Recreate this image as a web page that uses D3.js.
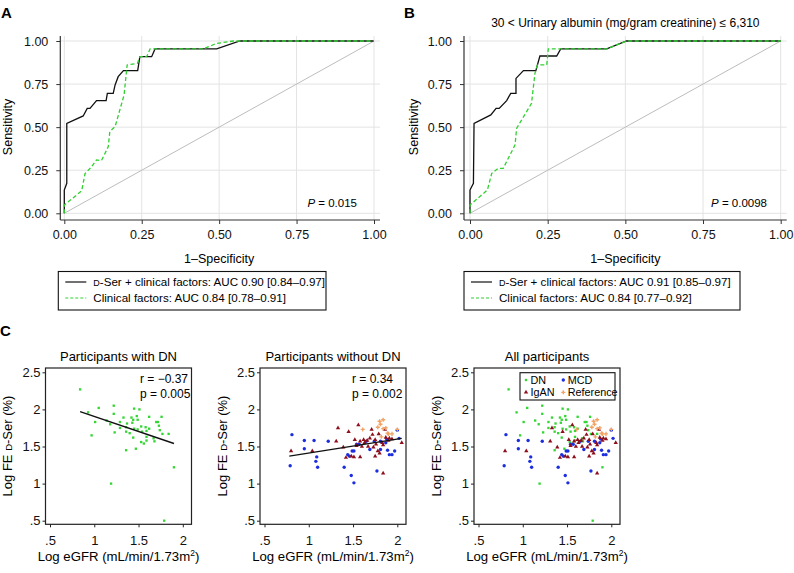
<!DOCTYPE html>
<html>
<head>
<meta charset="utf-8">
<script src="https://cdn.jsdelivr.net/npm/d3@7/dist/d3.min.js"></script>
<style>
  body { margin: 0; background: #fff; }
  svg { display: block; font-family: "Liberation Sans", Arial, Helvetica, sans-serif; }
</style>
</head>
<body>
<svg id="fig" width="794" height="573"></svg>
<script>
// ---- ROC data (1-specificity, sensitivity) ----
const rocTicks = [0, 0.25, 0.5, 0.75, 1];

const rocA_dser = [[0,0],[0,0.135],[0.008,0.174],[0.008,0.522],[0.061,0.565],[0.074,0.609],[0.083,0.609],
  [0.104,0.654],[0.135,0.654],[0.139,0.696],[0.158,0.696],[0.164,0.745],[0.174,0.793],[0.191,0.828],
  [0.237,0.828],[0.244,0.909],[0.282,0.909],[0.293,0.954],[0.492,0.954],[0.567,1],[1,1]];
const rocA_clin = [[0,0],[0,0.048],[0.056,0.13],[0.067,0.23],[0.088,0.27],[0.104,0.31],[0.12,0.306],
  [0.142,0.387],[0.147,0.474],[0.164,0.503],[0.193,0.687],[0.203,0.861],[0.236,0.87],[0.244,0.909],
  [0.266,0.909],[0.277,0.954],[0.449,0.954],[0.492,0.986],[0.546,1],[1,1]];

const rocB_dser = [[0,0],[0,0.135],[0.011,0.174],[0.013,0.522],[0.067,0.571],[0.084,0.609],[0.094,0.609],
  [0.118,0.654],[0.131,0.696],[0.148,0.696],[0.148,0.783],[0.172,0.828],[0.212,0.828],[0.225,0.913],
  [0.279,0.913],[0.292,0.954],[0.44,0.954],[0.504,1],[1,1]];
const rocB_clin = [[0,0],[0,0.048],[0.056,0.135],[0.07,0.232],[0.091,0.261],[0.107,0.261],[0.145,0.397],
  [0.15,0.493],[0.198,0.638],[0.209,0.812],[0.217,0.861],[0.247,0.861],[0.252,0.954],[0.44,0.954],
  [0.504,1],[1,1]];

const rocA_legend = ["-Ser + clinical factors: AUC 0.90 [0.84\u20130.97]", "Clinical factors: AUC 0.84 [0.78\u20130.91]"];
const rocB_legend = ["-Ser + clinical factors: AUC 0.91 [0.85\u20130.97]", "Clinical factors: AUC 0.84 [0.77\u20130.92]"];
const rocP = ["0.015", "0.0098"];

// ---- Scatter data: [log eGFR, log FE D-Ser] ----
const scatterXTicks = [0.5, 1, 1.5, 2];
const scatterYTicks = [0.5, 1, 1.5, 2, 2.5];

const dnPts = [[0.84,2.27],[1.22,2.05],[1.05,2.02],[0.93,1.96],[1.22,1.94],[1.45,2.01],[1.51,2.0],[1.76,1.9],
  [1.62,1.9],[1.33,1.89],[1.42,1.89],[1.48,1.91],[1.44,1.86],[1.49,1.86],[1.01,1.83],[1.29,1.83],
  [1.37,1.81],[1.43,1.82],[1.7,1.83],[1.72,1.83],[1.14,1.85],[1.18,1.8],[1.29,1.75],[1.36,1.76],
  [1.45,1.74],[1.53,1.77],[1.58,1.76],[1.62,1.74],[1.49,1.73],[1.23,1.69],[1.36,1.7],[1.4,1.68],
  [1.54,1.7],[1.59,1.71],[1.73,1.78],[1.74,1.72],[1.77,1.67],[1.84,1.67],[0.97,1.65],[1.44,1.62],
  [1.59,1.63],[1.59,1.58],[1.67,1.61],[1.68,1.57],[1.53,1.56],[1.56,1.54],[1.36,1.45],[1.47,1.47],
  [1.9,1.22],[1.19,1.0],[1.79,0.5]];

const mcdPts = [[0.81,1.66],[0.79,1.24],[0.95,1.58],[0.95,1.47],[1.06,1.58],[1.09,1.36],[1.08,1.3],
  [1.1,1.22],[1.22,1.57],[1.4,1.22],[1.44,1.39],[1.46,1.37],[1.49,1.44],[1.51,1.44],[1.48,1.11],
  [1.51,1.01],[1.54,1.53],[1.57,1.53],[1.65,1.57],[1.69,1.46],[1.74,1.57],[1.77,1.17],[1.81,1.46],
  [1.81,1.57],[1.87,1.55],[1.89,1.45],[1.91,1.39],[1.94,1.39],[1.97,1.44],[2.0,1.72],[2.02,1.61],
  [1.88,1.6]];

const igaPts = [[0.8,1.44],[1.04,1.44],[1.31,1.57],[1.33,1.75],[1.45,1.7],[1.39,1.49],[1.42,1.35],
  [1.48,1.37],[1.51,1.36],[1.56,1.79],[1.58,1.36],[1.6,1.5],[1.62,1.59],[1.63,1.55],[1.66,1.58],
  [1.67,1.5],[1.71,1.73],[1.72,1.66],[1.73,1.49],[1.75,1.59],[1.76,1.53],[1.78,1.44],[1.79,1.67],
  [1.84,1.52],[1.84,1.14],[1.86,1.73],[1.87,1.62],[1.9,1.58],[1.91,1.61],[1.94,1.6],[2.05,1.55],
  [1.52,1.59],[1.54,1.51],[1.58,1.57],[1.69,1.61],[1.83,1.55],[1.75,1.37],[1.8,1.41]];

const refPts = [[1.61,1.73],[1.78,1.76],[1.8,1.84],[1.81,1.8],[1.84,1.86],[1.84,1.74],[1.87,1.75],
  [1.89,1.68],[1.9,1.67],[1.94,1.67],[2.0,1.73],[1.82,1.63]];

// fitted regression lines (endpoints)
const fitDN = [[0.84,1.97],[1.9,1.54]];
const fitNonDN = [[0.78,1.37],[2.05,1.61]];

const groupNames = ["DN", "MCD", "IgAN", "Reference"];
const groupColors = { DN: "#33d633", MCD: "#1c2ee0", IgAN: "#8e0f1c", Reference: "#f2a263" };

// ---------------------------------------------------------------
const svg = d3.select("#fig");
const GREEN = "#2fd12f";

function panelLetter(t, x, y) {
  svg.append("text").attr("x", x).attr("y", y)
    .attr("font-size", 15).attr("font-weight", "bold").text(t);
}

function drawRoc(cfg) {
  const g = svg.append("g");
  const x = d3.scaleLinear().domain([0, 1]).range([cfg.x0, cfg.x1]);
  const y = d3.scaleLinear().domain([0, 1]).range([213.3, 41]);
  const top = 36, bottom = 220;

  // grid
  g.selectAll(".vg").data(rocTicks).enter().append("line")
    .attr("x1", d => x(d)).attr("x2", d => x(d)).attr("y1", top).attr("y2", bottom)
    .attr("stroke", "#e3e3e3").attr("stroke-width", 1);
  g.selectAll(".hg").data(rocTicks).enter().append("line")
    .attr("x1", cfg.ax0).attr("x2", cfg.ax1).attr("y1", d => y(d)).attr("y2", d => y(d))
    .attr("stroke", "#e3e3e3").attr("stroke-width", 1);

  // reference diagonal
  g.append("line").attr("x1", x(0)).attr("y1", y(0)).attr("x2", x(1)).attr("y2", y(1))
    .attr("stroke", "#bdbdbd").attr("stroke-width", 1);

  // axes
  const xa = g.append("g").attr("transform", `translate(0,${bottom})`)
    .call(d3.axisBottom(x).tickValues(rocTicks).tickSize(4).tickPadding(6).tickFormat(d3.format(".2f")));
  const ya = g.append("g").attr("transform", `translate(${cfg.ax0},0)`)
    .call(d3.axisLeft(y).tickValues(rocTicks).tickSize(4).tickPadding(8).tickFormat(d3.format(".2f")));
  [xa, ya].forEach(a => {
    a.select(".domain").remove();
    a.selectAll("text").attr("font-size", 12.5).attr("fill", "#111").attr("font-family", null);
    a.selectAll("line").attr("stroke", "#333");
  });
  g.append("line").attr("x1", cfg.ax0).attr("x2", cfg.ax1).attr("y1", bottom).attr("y2", bottom)
    .attr("stroke", "#333").attr("stroke-width", 1.2);
  g.append("line").attr("x1", cfg.ax0).attr("x2", cfg.ax0).attr("y1", top).attr("y2", bottom)
    .attr("stroke", "#333").attr("stroke-width", 1.2);

  // curves
  const line = d3.line().x(d => x(d[0])).y(d => y(d[1]));
  g.append("path").datum(cfg.dser).attr("d", line)
    .attr("fill", "none").attr("stroke", "#111").attr("stroke-width", 1.3);
  g.append("path").datum(cfg.clin).attr("d", line)
    .attr("fill", "none").attr("stroke", GREEN).attr("stroke-width", 1.3).attr("stroke-dasharray", "4,2.5");

  // labels
  g.append("text").attr("x", (cfg.x0 + cfg.x1) / 2).attr("y", 263).attr("text-anchor", "middle")
    .attr("font-size", 12.5).text("1\u2013Specificity");
  g.append("text").attr("transform", `translate(${cfg.ylabX},127) rotate(-90)`).attr("text-anchor", "middle")
    .attr("font-size", 12.5).text("Sensitivity");
  const pt = g.append("text").attr("x", cfg.pX).attr("y", 207).attr("text-anchor", "end").attr("font-size", 11.5);
  pt.append("tspan").attr("font-style", "italic").text("P");
  pt.append("tspan").text(" = " + cfg.p);

  if (cfg.title) {
    g.append("text").attr("x", (cfg.x0 + cfg.x1) / 2).attr("y", 27).attr("text-anchor", "middle")
      .attr("font-size", 12).text(cfg.title);
  }

  // legend
  const lg = g.append("g");
  lg.append("rect").attr("x", cfg.lgX0).attr("y", 271.5).attr("width", cfg.lgX1 - cfg.lgX0).attr("height", 38.5)
    .attr("fill", "#fff").attr("stroke", "#111").attr("stroke-width", 1.1);
  const rows = [282, 298];
  lg.append("line").attr("x1", cfg.lgX0 + 7).attr("x2", cfg.lgX0 + 28).attr("y1", rows[0]).attr("y2", rows[0])
    .attr("stroke", "#111").attr("stroke-width", 1.2);
  lg.append("line").attr("x1", cfg.lgX0 + 7).attr("x2", cfg.lgX0 + 28).attr("y1", rows[1]).attr("y2", rows[1])
    .attr("stroke", GREEN).attr("stroke-width", 1.2).attr("stroke-dasharray", "3,2");
  const t1 = lg.append("text").attr("x", cfg.lgX0 + 35).attr("y", rows[0] + 4).attr("font-size", 11.6);
  t1.append("tspan").attr("font-size", 9).text("D");
  t1.append("tspan").text(cfg.legend[0]);
  lg.append("text").attr("x", cfg.lgX0 + 35).attr("y", rows[1] + 4).attr("font-size", 11.6).text(cfg.legend[1]);
}

drawRoc({ x0: 64.3, x1: 374, ax0: 60.3, ax1: 380, ylabX: 12, pX: 357, p: rocP[0],
  dser: rocA_dser, clin: rocA_clin, legend: rocA_legend, lgX0: 58.3, lgX1: 326 });
drawRoc({ x0: 470, x1: 780.7, ax0: 464, ax1: 786.7, ylabX: 418, pX: 767, p: rocP[1],
  dser: rocB_dser, clin: rocB_clin, legend: rocB_legend, lgX0: 464, lgX1: 740,
  title: "30 < Urinary albumin (mg/gram creatinine) \u2264 6,310" });

panelLetter("A", 1, 18);
panelLetter("B", 404, 18);
panelLetter("C", 0, 336);

// ---- scatter panels ----
const symbols = {
  DN: d3.symbol().type(d3.symbolSquare).size(5.5),
  MCD: d3.symbol().type(d3.symbolCircle).size(9),
  IgAN: d3.symbol().type(d3.symbolTriangle).size(8),
  Reference: d3.symbol().type(d3.symbolCross).size(9)
};

function drawScatter(cfg) {
  const g = svg.append("g").attr("transform", `translate(${cfg.off},0)`);
  const x = d3.scaleLinear().domain([0.5, 2]).range([50, 182.8]);
  const y = d3.scaleLinear().domain([0.5, 2.5]).range([520.7, 372.3]);
  const fL = 45.5, fR = 191.5, fT = 368, fB = 524.3;
  const fmt = d => d === 0.5 ? ".5" : String(d);

  const xa = g.append("g").attr("transform", `translate(0,${fB})`)
    .call(d3.axisBottom(x).tickValues(scatterXTicks).tickSize(3).tickPadding(8).tickFormat(fmt));
  const ya = g.append("g").attr("transform", `translate(${fL},0)`)
    .call(d3.axisLeft(y).tickValues(scatterYTicks).tickSize(3).tickPadding(2).tickFormat(fmt));
  [xa, ya].forEach(a => {
    a.select(".domain").remove();
    a.selectAll("text").attr("font-size", 13).attr("fill", "#111").attr("font-family", null);
    a.selectAll("line").attr("stroke", "#222");
  });

  g.append("rect").attr("x", fL).attr("y", fT).attr("width", fR - fL).attr("height", fB - fT)
    .attr("fill", "none").attr("stroke", "#222").attr("stroke-width", 1.2);

  cfg.groups.forEach(name => {
    g.append("g").selectAll("path").data(cfg.data[name]).enter().append("path")
      .attr("transform", d => `translate(${x(d[0])},${y(d[1])})`)
      .attr("d", symbols[name]()).attr("fill", groupColors[name]);
  });

  if (cfg.fit) {
    g.append("line").attr("x1", x(cfg.fit[0][0])).attr("y1", y(cfg.fit[0][1]))
      .attr("x2", x(cfg.fit[1][0])).attr("y2", y(cfg.fit[1][1]))
      .attr("stroke", "#111").attr("stroke-width", 1.4);
  }
  if (cfg.stats) {
    g.append("text").attr("x", cfg.statX).attr("y", 382.5).attr("font-size", 12).text(cfg.stats[0]);
    g.append("text").attr("x", cfg.statX).attr("y", 397.5).attr("font-size", 12).text(cfg.stats[1]);
  }

  g.append("text").attr("x", (fL + fR) / 2).attr("y", 361).attr("text-anchor", "middle")
    .attr("font-size", 13).text(cfg.title);
  const xt = g.append("text").attr("x", (fL + fR) / 2).attr("y", 561).attr("text-anchor", "middle")
    .attr("font-size", 13.2);
  xt.append("tspan").text("Log eGFR (mL/min/1.73m");
  xt.append("tspan").attr("font-size", 8.5).attr("dy", -5).text("2");
  xt.append("tspan").attr("dy", 5).text(")");
  const yt = g.append("text").attr("transform", `translate(12,446) rotate(-90)`)
    .attr("text-anchor", "middle").attr("font-size", 13);
  yt.append("tspan").text("Log FE ");
  yt.append("tspan").attr("font-size", 9.5).text("D");
  yt.append("tspan").text("-Ser (%)");

  if (cfg.legend) {
    const lg = g.append("g");
    lg.append("rect").attr("x", 91.5).attr("y", 372.7).attr("width", 95).attr("height", 27.3)
      .attr("fill", "#fff").attr("stroke", "#111").attr("stroke-width", 1.1);
    const pos = { DN: [97.5, 380], IgAN: [97.5, 392.3], MCD: [134.8, 380], Reference: [134.8, 392.3] };
    groupNames.forEach(name => {
      const p = pos[name];
      lg.append("path").attr("transform", `translate(${p[0]},${p[1]})`)
        .attr("d", symbols[name]()).attr("fill", groupColors[name]);
      lg.append("text").attr("x", p[0] + 4.5).attr("y", p[1] + 4).attr("font-size", 10.8).text(name);
    });
  }
}

const allData = { DN: dnPts, MCD: mcdPts, IgAN: igaPts, Reference: refPts };

drawScatter({ off: 0, title: "Participants with DN", groups: ["DN"], data: allData,
  fit: fitDN, stats: ["r = \u22120.37", "p = 0.005"], statX: 140 });
drawScatter({ off: 214.5, title: "Participants without DN", groups: ["MCD", "IgAN", "Reference"], data: allData,
  fit: fitNonDN, stats: ["r = 0.34", "p = 0.002"], statX: 137.5 });
drawScatter({ off: 428.5, title: "All participants", groups: ["DN", "MCD", "IgAN", "Reference"], data: allData,
  legend: true });
</script>
</body>
</html>
